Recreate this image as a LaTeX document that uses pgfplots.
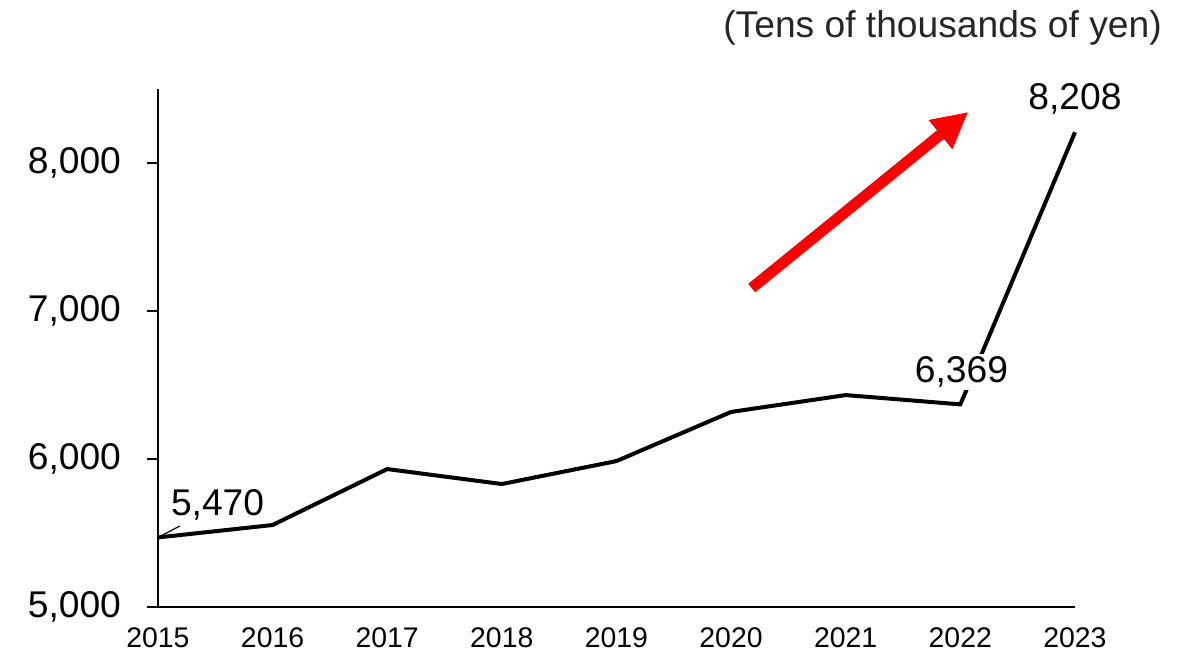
\documentclass[border=0pt]{standalone}
\usepackage{pgfplots}
\pgfplotsset{compat=1.18}
\usepackage{fontspec}
\setmainfont{Liberation Sans}
\usetikzlibrary{arrows.meta}
\begin{document}
\begin{tikzpicture}
\begin{axis}[
  scale only axis,
  width=458.5pt, height=259pt,
  xmin=2015, xmax=2023, ymin=5000, ymax=8500,
  axis x line*=bottom, axis y line*=left,
  axis line style={line width=1pt,-},
  xtick={2015,...,2023},
  xticklabels={2015,2016,2017,2018,2019,2020,2021,2022,2023},
  ytick={5000,6000,7000,8000},
  yticklabels={5{,}000,6{,}000,7{,}000,8{,}000},
  x tick style={draw=none},
  y tick style={line width=1pt,black},
  tick align=outside, major tick length=5.5pt,
  /pgf/number format/assume math mode=true,
  x tick label style={font=\fontsize{14.2}{16}\selectfont, yshift=-1.5pt},
  y tick label style={font=\fontsize{18.6}{21}\selectfont, xshift=-9.5pt},
  clip=false,
]
\addplot[black, line width=2pt, line join=miter] coordinates {
 (2015,5470) (2016,5554) (2017,5932) (2018,5831) (2019,5986)
 (2020,6318) (2021,6432) (2022,6369) (2023,8208)};
\draw[black, line width=0.6pt] (axis cs:2015,5470) -- (axis cs:2015.19,5547);
\node[font=\fontsize{18.6}{21}\selectfont, inner sep=1pt] at (axis cs:2015.52,5689) {5,470};
\node[font=\fontsize{18.6}{21}\selectfont, fill=white, inner sep=1.5pt] at (axis cs:2022.01,6588) {6,369};
\node[font=\fontsize{18.6}{21}\selectfont, fill=white, inner sep=1.5pt] at (axis cs:2023,8432) {8,208};
\draw[red, line width=5.5pt, -{Triangle[length=18pt,width=17.5pt]}] (axis cs:2020.18,7155) -- (axis cs:2022.07,8345);
\node[font=\fontsize{18.6}{21}\selectfont, anchor=east, inner sep=0pt, text=black!85] at (axis cs:2023.76,8912) {(Tens of thousands of yen)};
\coordinate (bl) at (axis cs:2013.622,4702.7);
\coordinate (tr) at (axis cs:2023.986,9101.4);
\end{axis}
\pgfresetboundingbox
\path (bl) rectangle (tr);
\end{tikzpicture}
\end{document}
